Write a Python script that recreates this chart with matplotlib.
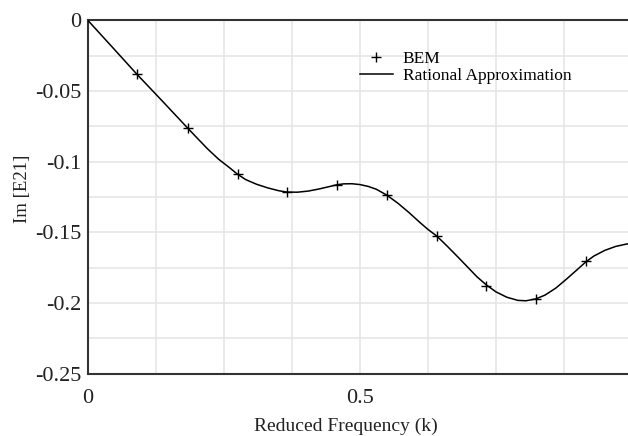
import numpy as np
import matplotlib
matplotlib.use("Agg")
from matplotlib import pyplot as plt
from matplotlib.ticker import MultipleLocator, FixedLocator

# BEM samples
bem_k = [0.090, 0.183, 0.275, 0.365, 0.458, 0.549, 0.641, 0.732, 0.823, 0.915]
bem_im = [-0.0381, -0.0761, -0.1089, -0.1215, -0.1163, -0.1236, -0.1526, -0.1880, -0.1972, -0.1705]

# rational approximation curve
fit_k = [0.0, 0.045, 0.090, 0.137, 0.183, 0.200, 0.220, 0.240, 0.260, 0.275, 0.290,
         0.310, 0.330, 0.350, 0.365, 0.385, 0.405, 0.425, 0.445, 0.458, 0.470, 0.485,
         0.500, 0.515, 0.530, 0.549, 0.570, 0.590, 0.610, 0.625, 0.641, 0.660, 0.680,
         0.700, 0.715, 0.732, 0.750, 0.770, 0.790, 0.805, 0.823, 0.840, 0.860, 0.880,
         0.900, 0.915, 0.930, 0.950, 0.970, 0.990, 1.0]
fit_im = [0.0, -0.0190, -0.0381, -0.0572, -0.0761, -0.0830, -0.0910, -0.0982, -0.1042,
          -0.1089, -0.1127, -0.1160, -0.1185, -0.1205, -0.1215, -0.1216, -0.1208,
          -0.1193, -0.1175, -0.1163, -0.1157, -0.1156, -0.1162, -0.1175, -0.1195,
          -0.1236, -0.1295, -0.1360, -0.1430, -0.1480, -0.1526, -0.1597, -0.1675,
          -0.1755, -0.1815, -0.1872, -0.1922, -0.1960, -0.1982, -0.1985, -0.1972,
          -0.1945, -0.1895, -0.1830, -0.1762, -0.1710, -0.1668, -0.1628, -0.1600,
          -0.1583, -0.1580]

plt.rcParams['font.family'] = ['Liberation Serif', 'DejaVu Serif']

fig = plt.figure(figsize=(6.28, 4.36), dpi=100)
ax = fig.add_axes([88/628, 62.5/436, 544/628, 353/436])

ax.plot(fit_k, fit_im, color='black', lw=1.1, label='Rational Approximation', zorder=3)
ax.plot(bem_k, bem_im, ls='none', marker='+', ms=7, mew=1.0, color='black', label='BEM', zorder=4)

ax.set_xlim(0, 1)
ax.set_ylim(-0.25, 0)
ax.xaxis.set_major_locator(FixedLocator([0, 0.5]))
ax.xaxis.set_minor_locator(MultipleLocator(0.125))
ax.yaxis.set_major_locator(MultipleLocator(0.05))
ax.yaxis.set_minor_locator(MultipleLocator(0.025))
fmt = plt.FuncFormatter(lambda v, p: '%g' % round(v, 6))
ax.xaxis.set_major_formatter(fmt)
ax.yaxis.set_major_formatter(fmt)

ax.grid(True, which='both', color='#e6e6e6', lw=1.2)
ax.set_axisbelow(True)
ax.tick_params(which='both', length=0, labelsize=16, colors='#222222')
ax.tick_params(axis='y', pad=5)
ax.tick_params(axis='x', pad=11)

for s in ['left', 'top', 'bottom']:
    ax.spines[s].set_color('#333333')
    ax.spines[s].set_linewidth(1.5)
ax.spines['right'].set_visible(False)

ax.set_xlabel('Reduced Frequency (k)', fontsize=14, color='#222222')
ax.xaxis.set_label_coords(0.474, -0.126)
ax.set_ylabel('Im [E21]', fontsize=13.5, color='#222222')
ax.yaxis.set_label_coords(-0.104, 0.523)

h, l = ax.get_legend_handles_labels()
ax.legend([h[1], h[0]], [l[1], l[0]], loc='upper left', bbox_to_anchor=(351/628, 1 - 42/436),
          bbox_transform=fig.transFigure, frameon=False, fontsize=12.5,
          handlelength=1.9, handletextpad=0.57, labelspacing=0.05, borderpad=0)

fig.savefig('out.png', dpi=100)
